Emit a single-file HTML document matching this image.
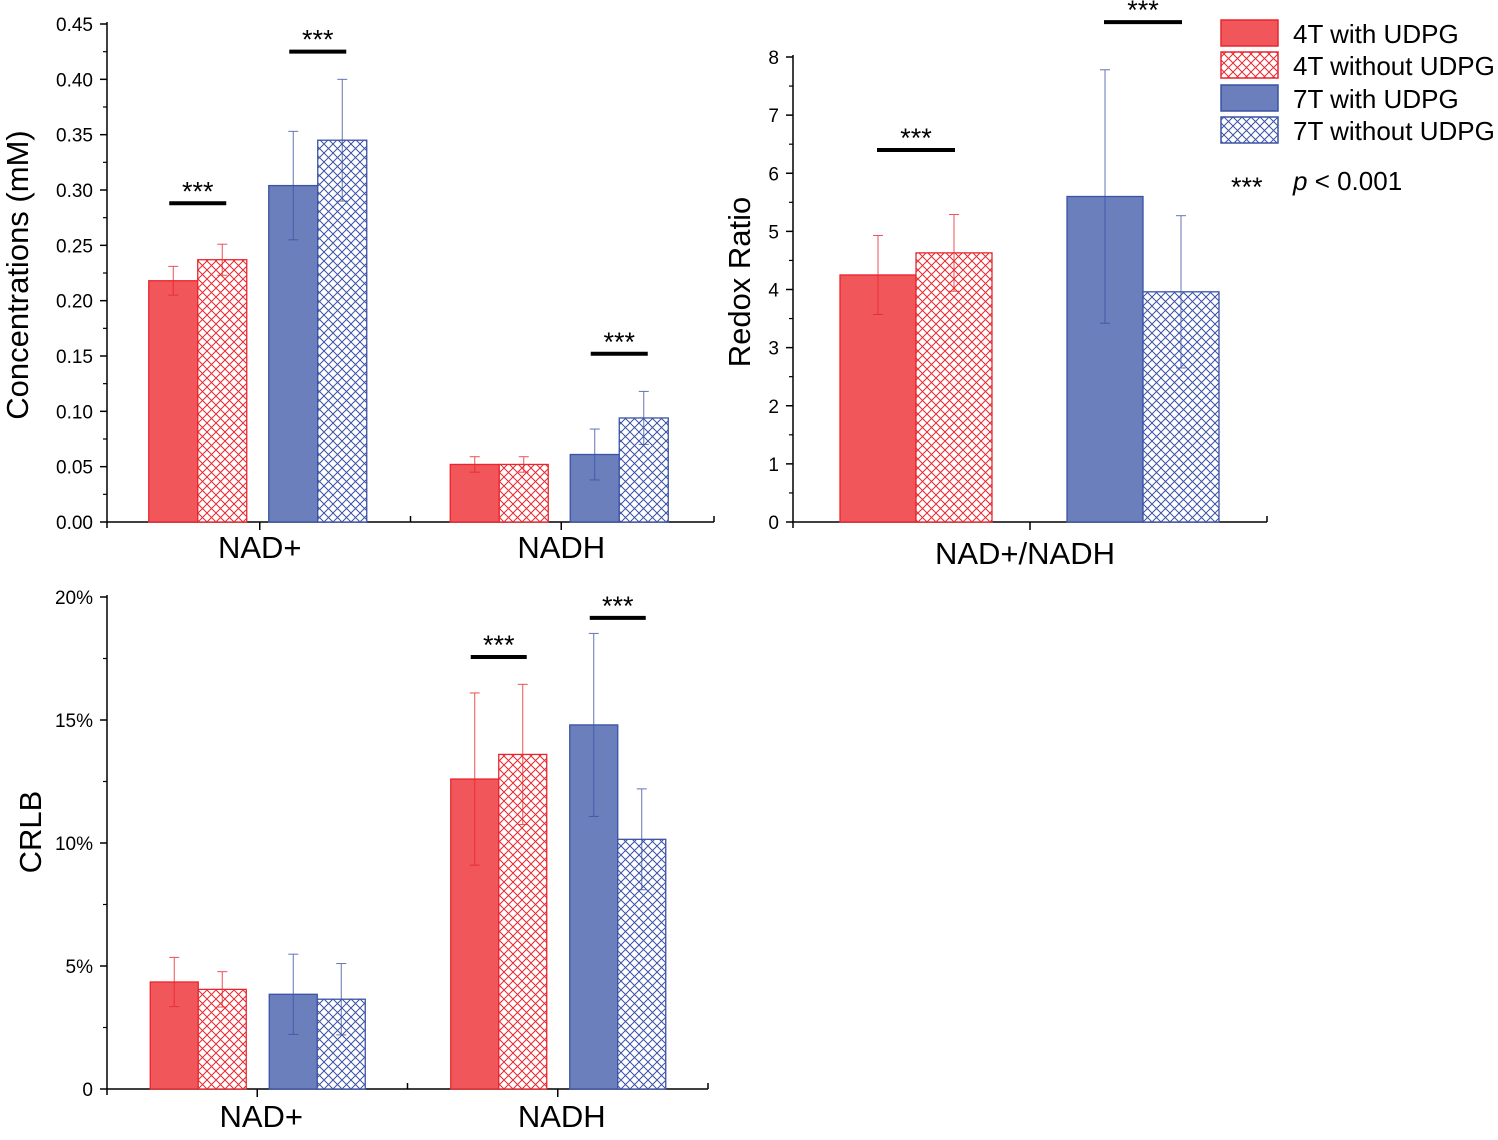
<!DOCTYPE html>
<html><head><meta charset="utf-8"><style>
html,body{margin:0;padding:0;background:#fff}
svg{display:block;font-family:"Liberation Sans",Arial,sans-serif}
</style></head><body>
<svg id="s" width="1498" height="1140" viewBox="0 0 1498 1140">
<defs>
<pattern id="hr" width="9" height="9" patternUnits="userSpaceOnUse"><rect width="9" height="9" fill="#fff"/><path d="M0,0L9,9M9,0L0,9" stroke="#e8262d" stroke-width="1"/></pattern>
<pattern id="hb" width="9" height="9" patternUnits="userSpaceOnUse"><rect width="9" height="9" fill="#fff"/><path d="M0,0L9,9M9,0L0,9" stroke="#3b52a5" stroke-width="1"/></pattern>
</defs>
<g id="legend">
<rect x="1221" y="20" width="57" height="26" fill="#f0565a" stroke="#e8262d" stroke-width="1.5"/>
<text x="1293" y="43" font-size="26">4T with UDPG</text>
<rect x="1221" y="52" width="57" height="26" fill="url(#hr)" stroke="#e8262d" stroke-width="1.5"/>
<text x="1293" y="75" font-size="26">4T without UDPG</text>
<rect x="1221" y="85" width="57" height="26" fill="#6a7fbb" stroke="#3b52a5" stroke-width="1.5"/>
<text x="1293" y="108" font-size="26">7T with UDPG</text>
<rect x="1221" y="117" width="57" height="26" fill="url(#hb)" stroke="#3b52a5" stroke-width="1.5"/>
<text x="1293" y="140" font-size="26">7T without UDPG</text>
<text x="1231" y="196" font-size="27">***</text>
<text x="1293" y="190" font-size="26"><tspan font-style="italic">p</tspan> &lt; 0.001</text>
</g>
</svg>
<script>
// Chart 1: concentrations
const c1Cats = ["NAD+","NADH"];
const c1Vals = [[0.218,0.237,0.304,0.345],[0.052,0.052,0.061,0.094]];
const c1Err = [[0.013,0.014,0.049,0.055],[0.007,0.007,0.023,0.024]];
const c1Ticks = ["0.00","0.05","0.10","0.15","0.20","0.25","0.30","0.35","0.40","0.45"];
const c1Sig = [[0,0,1,0.288],[0,2,3,0.425],[1,2,3,0.152]];
// Chart 2: redox ratio
const c2Cats = ["NAD+/NADH"];
const c2Vals = [[4.25,4.63,5.6,3.96]];
const c2Err = [[0.68,0.66,2.18,1.31]];
const c2Ticks = ["0","1","2","3","4","5","6","7","8"];
const c2Sig = [[0,0,1,6.4],[0,2,3,8.6]];
// Chart 3: CRLB (%)
const c3Cats = ["NAD+","NADH"];
const c3Vals = [[4.35,4.05,3.85,3.65],[12.6,13.6,14.8,10.15]];
const c3Err = [[1.0,0.72,1.63,1.45],[3.5,2.85,3.72,2.05]];
const c3Ticks = ["0","5%","10%","15%","20%"];
const c3Sig = [[1,0,1,17.56],[1,2,3,19.15]];

const S=document.getElementById('s');
const NS='http://www.w3.org/2000/svg';
function mk(t,a,p){const e=document.createElementNS(NS,t);for(const k in a)e.setAttribute(k,a[k]);(p||S).appendChild(e);return e;}
const fills=['#f0565a','url(#hr)','#6a7fbb','url(#hb)'];
const strokes=['#e8262d','#e8262d','#3b52a5','#3b52a5'];
const errc=['#e8262d','#e8262d','#3b52a5','#3b52a5'];

function chart(o){
  const g=mk('g',{});
  
  
  const y=v=>o.y0-(v/o.vmax)*(o.y0-o.y1);
  const nT=o.ticks.length-1;
  const ya=mk('line',{x1:o.x0,y1:o.y0,x2:o.x0,y2:o.y1-2,stroke:'#000','stroke-width':1.5},g);
  
  
  for(let i=0;i<=nT;i++){
    const v=o.vmax*i/nT, yy=y(v);
    mk('line',{x1:o.x0-7,y1:yy,x2:o.x0,y2:yy,stroke:'#000','stroke-width':1.5},g);
    if(i<nT){const ym=y(v+o.vmax/nT/2);mk('line',{x1:o.x0-4,y1:ym,x2:o.x0,y2:ym,stroke:'#000','stroke-width':1.2},g);}
    const t=mk('text',{x:o.x0-14,y:yy+7,'font-size':19,'text-anchor':'end'},g);
    t.textContent=o.ticks[i];
    
    
  }
  const yt=mk('text',{x:0,y:0,'font-size':31,'text-anchor':'middle',transform:`translate(${o.ytx},${o.yty})rotate(-90)`},g);
  yt.textContent=o.ytitle;
  
  
  const xa=mk('line',{x1:o.x0,y1:o.y0,x2:o.x2,y2:o.y0,stroke:'#000','stroke-width':1.5},g);
  
  
  mk('line',{x1:o.x2,y1:o.y0,x2:o.x2,y2:o.y0-6,stroke:'#000','stroke-width':1.5},g);
  mk('line',{x1:o.x0,y1:o.y0,x2:o.x0,y2:o.y0+6,stroke:'#000','stroke-width':1.5},g);
  const gw=(o.x2-o.x0)/o.cats.length;
  o.cats.forEach((c,ci)=>{
    const cx=o.x0+gw*(ci+0.5)+o.gshift[ci];
    mk('line',{x1:cx,y1:o.y0,x2:cx,y2:o.y0+8,stroke:'#000','stroke-width':1.5},g);
    if(ci>0)mk('line',{x1:o.x0+gw*ci,y1:o.y0,x2:o.x0+gw*ci,y2:o.y0-6,stroke:'#000','stroke-width':1.5},g);
    const t=mk('text',{x:cx+o.labdx,y:o.y0+o.labdy,'font-size':31,'text-anchor':'middle'},g);
    t.textContent=c;
    
    
    const bx=i=>cx+o.offs[i];
    o.vals[ci].forEach((v,i)=>{
      const r=mk('rect',{x:bx(i),y:y(v),width:o.bw,height:o.y0-y(v),fill:fills[i],stroke:strokes[i],'stroke-width':1.3},g);
      
      
      const e=o.err[ci][i], ex=bx(i)+o.bw/2;
      const eg=mk('g',{stroke:errc[i],'stroke-width':1,opacity:0.8},g);
      
      
      mk('line',{x1:ex,y1:y(v-e),x2:ex,y2:y(v+e)},eg);
      mk('line',{x1:ex-5,y1:y(v-e),x2:ex+5,y2:y(v-e)},eg);
      mk('line',{x1:ex-5,y1:y(v+e),x2:ex+5,y2:y(v+e)},eg);
    });
    o.sig.filter(s=>s[0]===ci).forEach(s=>{
      const a=bx(s[1])+o.bw/2-o.sx, b=bx(s[2])+o.bw/2+o.sx, yy=y(s[3]);
      const l=mk('line',{x1:a,y1:yy,x2:b,y2:yy,stroke:'#000','stroke-width':4},g);
      
      
      const t=mk('text',{x:(a+b)/2,y:yy-3,'font-size':27,'text-anchor':'middle'},g);
      t.textContent='***';
      
      
    });
  });
}
chart({name:'concentration-chart',x0:107,x2:714,y0:522,y1:24,vmax:0.45,ticks:c1Ticks,cats:c1Cats,vals:c1Vals,err:c1Err,sig:c1Sig,bw:49,offs:[-111,-62,9,58],gshift:[1,-1],ytitle:'Concentrations (mM)',ytx:28,yty:275,labdx:0,labdy:36,sx:4});
chart({name:'redox-ratio-chart',x0:793,x2:1267,y0:522,y1:57,vmax:8,ticks:c2Ticks,cats:c2Cats,vals:c2Vals,err:c2Err,sig:c2Sig,bw:76,offs:[-190,-114,37,113],gshift:[0],ytitle:'Redox Ratio',ytx:750,yty:282,labdx:-5,labdy:42,sx:1});
chart({name:'crlb-chart',x0:107,x2:708,y0:1089,y1:597,vmax:20,ticks:c3Ticks,cats:c3Cats,vals:c3Vals,err:c3Err,sig:c3Sig,bw:48,offs:[-107,-59,12,60],gshift:[0,0],ytitle:'CRLB',ytx:41,yty:832,labdx:4,labdy:38,sx:4});
</script>
</body></html>
